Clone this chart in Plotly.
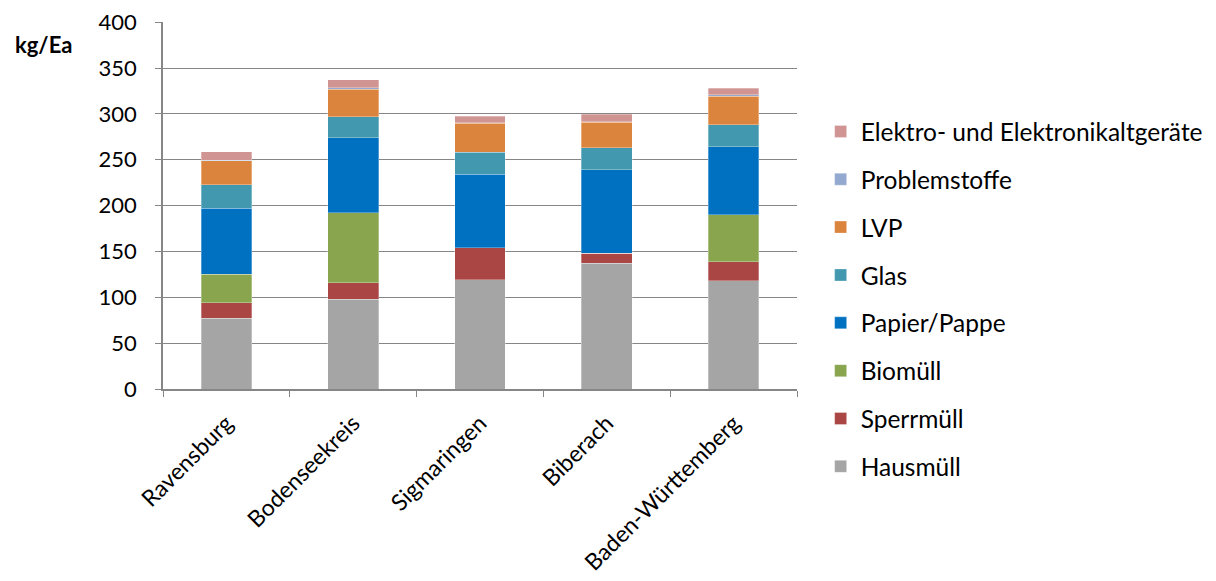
import plotly.graph_objects as go

categories = ["Ravensburg", "Bodenseekreis", "Sigmaringen", "Biberach", "Baden-Württemberg"]

hausmuell = [77, 98, 119, 137, 118]
sperrmuell = [17, 18, 35, 11, 21]
biomuell = [31, 76, 0, 0, 51]
papier = [72, 82, 80, 91, 74]
glas = [26, 23, 24, 24, 24]
lvp = [26, 30, 32, 28, 31]
problemstoffe = [0.7, 1.5, 0.5, 0.5, 1.8]
elektro = [9, 9, 7, 8, 7]

series = [
    ("Hausmüll", hausmuell, "#A5A5A5"),
    ("Sperrmüll", sperrmuell, "#AA4643"),
    ("Biomüll", biomuell, "#89A54E"),
    ("Papier/Pappe", papier, "#0070C0"),
    ("Glas", glas, "#4198AF"),
    ("LVP", lvp, "#DB843D"),
    ("Problemstoffe", problemstoffe, "#93A9CF"),
    ("Elektro- und Elektronikaltgeräte", elektro, "#D09493"),
]

FONT = "Lato"

fig = go.Figure()
for i, (name, vals, color) in enumerate(series):
    fig.add_trace(go.Bar(
        x=categories, y=vals, name=name, legendgroup=name,
        legendrank=1000 - i,
        marker=dict(color=color, line=dict(color="rgba(255,255,255,0.5)", width=0.6)),
        width=0.4,
    ))

fig.update_layout(
    barmode="stack",
    width=1216, height=581,
    margin=dict(l=155, r=427, t=14, b=200, autoexpand=False),
    plot_bgcolor="white", paper_bgcolor="white",
    font=dict(family=FONT, size=22, color="#000000"),
    showlegend=True,
    legend=dict(
        x=1.0373, xanchor="left", y=0.763, yanchor="top",
        traceorder="grouped", tracegroupgap=13.0, maxheight=520,
        font=dict(family=FONT, size=24.5), itemwidth=30,
        bgcolor="rgba(0,0,0,0)",
    ),
    xaxis=dict(
        type="category", tickson="boundaries", ticks="outside", ticklen=6,
        tickcolor="#868686", showline=True, linecolor="#868686", linewidth=1.5,
        tickangle=-45, tickfont=dict(family=FONT, size=23), showgrid=False,
        automargin=False, ticklabelstandoff=10, ticklabeloverflow="allow",
    ),
    yaxis=dict(
        range=[0, 400.2], tickvals=[0, 50, 100, 150, 200, 250, 300, 350, 400],
        ticks="outside", ticklen=6, tickcolor="#868686",
        showline=True, linecolor="#868686", linewidth=1.5,
        showgrid=True, gridcolor="#868686", gridwidth=1.2,
        tickfont=dict(family=FONT, size=22), zeroline=False, automargin=False,
        ticklabeloverflow="allow", ticklabelstandoff=14,
    ),
    annotations=[dict(
        text="<b>kg/Ea</b>", x=(43 - 163) / 634, y=(389 - 44) / 367,
        xref="paper", yref="paper", xanchor="center", yanchor="middle",
        showarrow=False, font=dict(family=FONT, size=22),
    )],
)

fig.write_html("out.html")
